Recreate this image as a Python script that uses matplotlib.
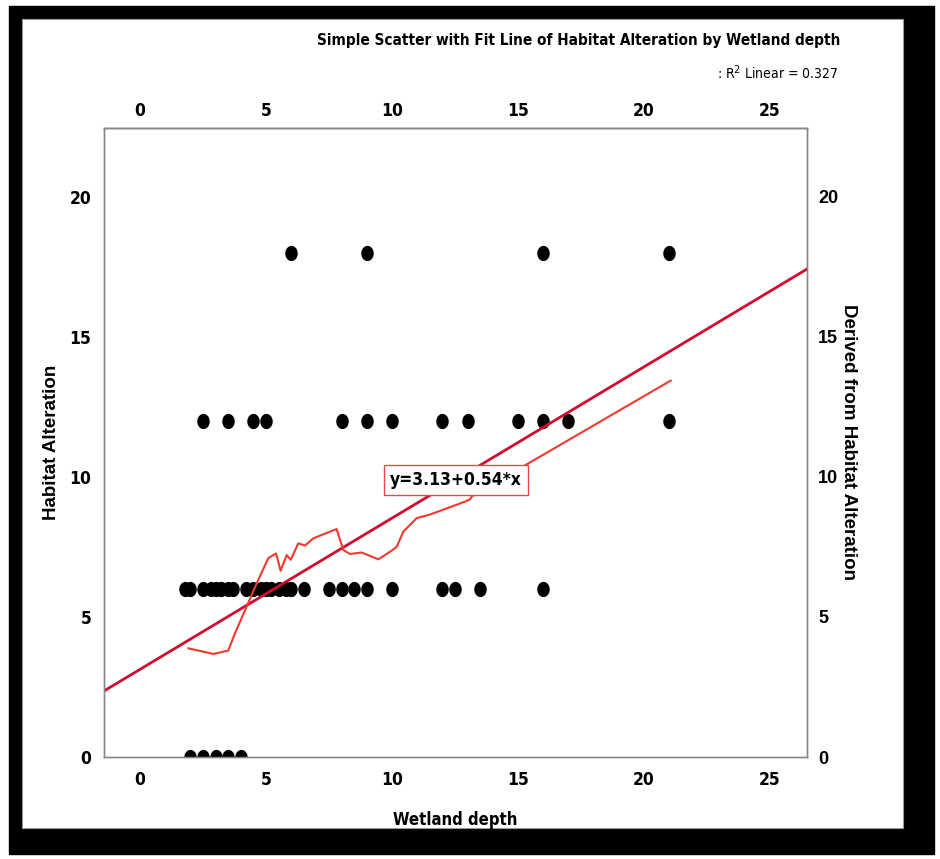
import numpy as np
import matplotlib.pyplot as plt
from matplotlib import font_manager as fm
from matplotlib.patches import Rectangle

# wetland depth vs habitat alteration score
depth_0 = [2, 2.5, 3, 3.5, 4]
depth_6 = [1.8, 2, 2.5, 2.8, 3, 3.2, 3.5, 3.7, 4.2, 4.5, 4.8, 5, 5.2, 5.5, 5.8,
           6, 6.5, 7.5, 8, 8.5, 9, 10, 12, 12.5, 13.5, 16]
depth_12 = [2.5, 3.5, 4.5, 5, 8, 9, 10, 12, 13, 15, 16, 17, 21]
depth_18 = [6, 9, 16, 21]

# smoothed curve (derived from habitat alteration)
smooth_x = [1.92, 2.91, 3.5, 3.77, 4.23, 4.63, 5.09, 5.4, 5.58, 5.82, 5.98, 6.28,
            6.55, 6.88, 7.8, 8.07, 8.33, 8.8, 9.46, 9.99, 10.19, 10.45, 10.98,
            11.44, 11.64, 12.9, 13.1, 13.16, 15.08, 21.06]
smooth_y = [3.88, 3.68, 3.8, 4.42, 5.37, 6.2, 7.1, 7.27, 6.65, 7.21, 7.04, 7.63,
            7.55, 7.81, 8.14, 7.39, 7.25, 7.3, 7.06, 7.37, 7.51, 8.05, 8.53,
            8.64, 8.7, 9.12, 9.2, 9.3, 10.31, 13.44]

intercept, slope = 3.13, 0.54
r2 = 0.327


# narrow faces (bold / regular) if installed
def find_narrow(bold):
    for f in fm.fontManager.ttflist:
        if 'Mono' in f.name or 'Serif' in f.name or f.style != 'normal':
            continue
        is_narrow = ('Narrow' in f.name or 'Condensed' in f.name
                     or f.stretch in ('condensed', 'semi-condensed'))
        w = f.weight if isinstance(f.weight, int) else (700 if f.weight == 'bold' else 400)
        if is_narrow and ((w >= 600) == bold):
            return f.fname
    return None


narrow_bold = find_narrow(True)
narrow_reg = find_narrow(False)


def nfont(size, bold=True):
    path = narrow_bold if bold else narrow_reg
    if path:
        return fm.FontProperties(fname=path, size=size)
    return fm.FontProperties(family=['Liberation Sans', 'DejaVu Sans'],
                             weight='bold' if bold else 'normal', size=size * 0.9)


def wfont(size):
    return fm.FontProperties(family=['Liberation Sans', 'DejaVu Sans'],
                             weight='bold', size=size)


# slightly tall oval dot
t = np.linspace(0, 2 * np.pi, 40)
oval = np.column_stack([0.82 * np.cos(t), np.sin(t)])

fig = plt.figure(figsize=(9.4, 8.59), dpi=100)

# framed background
fig.patches.append(Rectangle((9 / 940, 1 - 854 / 859), 925 / 940, 848 / 859,
                             transform=fig.transFigure, color='black', zorder=-2))
fig.patches.append(Rectangle((22 / 940, 1 - 828 / 859), 881 / 940, 809 / 859,
                             transform=fig.transFigure, facecolor='white',
                             edgecolor='#999999', lw=0.8, zorder=-1))

ax = fig.add_axes([104 / 940, 1 - 757 / 859, 703 / 940, 629 / 859])
ax.set_facecolor('white')
ax.set_xlim(-1.43, 26.47)
ax.set_ylim(0, 22.46)

groups = [(depth_0, 0), (depth_6, 6), (depth_12, 12), (depth_18, 18)]
for xs, yv in groups:
    ax.scatter(xs, [yv] * len(xs), s=120, marker=oval, color='black', zorder=3,
               linewidths=0)

xl = np.array(ax.get_xlim())
ax.plot(xl, intercept + slope * xl, color='#d20a2e', lw=2.0, zorder=4)
ax.plot(smooth_x, smooth_y, color='#f03a30', lw=1.5, zorder=4)

ax.text(12.54, 9.89, 'y=%.2f+%.2f*x' % (intercept, slope), ha='center', va='center',
        fontproperties=nfont(12.5), zorder=5,
        bbox=dict(boxstyle='square,pad=0.35', fc='white', ec='#e84848', lw=1))

ticks_x = [0, 5, 10, 15, 20, 25]
ticks_y = [0, 5, 10, 15, 20]
ax.set_xticks(ticks_x)
ax.set_yticks(ticks_y)
ax.tick_params(length=0)
ax.tick_params(axis='x', pad=10)
ax.tick_params(axis='y', pad=9)
for lab in ax.get_xticklabels() + ax.get_yticklabels():
    lab.set_fontproperties(nfont(12.5))

top = ax.secondary_xaxis('top')
top.set_xticks(ticks_x)
top.tick_params(length=0, pad=6)
for lab in top.get_xticklabels():
    lab.set_fontproperties(nfont(12.5))

ax2 = ax.twinx()
ax2.set_ylim(ax.get_ylim())
ax2.set_yticks(ticks_y)
ax2.tick_params(length=0, pad=8)
for lab in ax2.get_yticklabels():
    lab.set_fontproperties(wfont(13))

for a in (ax, ax2, top):
    for sp in a.spines.values():
        sp.set_color('#888888')
        sp.set_linewidth(1)

fig.text(52 / 940, 1 - 442 / 859, 'Habitat Alteration', rotation=90,
         ha='center', va='center', fontproperties=wfont(13.5))
fig.text(848 / 940, 1 - 442 / 859, 'Derived from Habitat Alteration', rotation=270,
         ha='center', va='center', fontproperties=wfont(13.5))
fig.text(455 / 940, 1 - 820 / 859, 'Wetland depth', ha='center', va='center',
         fontproperties=nfont(12))

fig.text(840 / 940, 1 - 40 / 859,
         'Simple Scatter with Fit Line of Habitat Alteration by Wetland depth',
         ha='right', va='center', fontproperties=nfont(11))
fig.text(838 / 940, 1 - 73 / 859, ': R$^2$ Linear = %.3f' % r2,
         ha='right', va='center', fontproperties=nfont(10, bold=False))

fig.savefig('out.png', dpi=100)
